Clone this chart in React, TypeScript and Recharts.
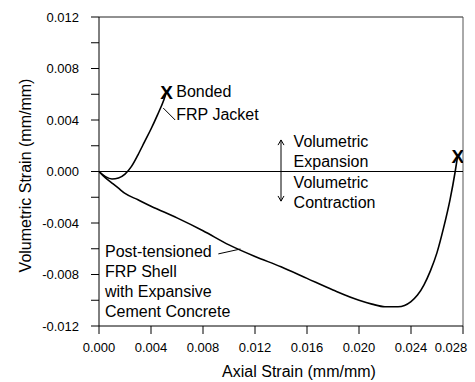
import { ComposedChart, Line, Scatter, XAxis, YAxis, ReferenceLine, ReferenceDot } from 'recharts';

const xTicks = [0, 0.002, 0.004, 0.006, 0.008, 0.01, 0.012, 0.014, 0.016, 0.018, 0.02, 0.022, 0.024, 0.026, 0.028];
const yTicks = [-0.012, -0.01, -0.008, -0.006, -0.004, -0.002, 0, 0.002, 0.004, 0.006, 0.008, 0.01, 0.012];

// bonded FRP jacket
const bondedAxial = [0, 0.0005, 0.001, 0.0015, 0.002, 0.0025, 0.003, 0.0035, 0.004, 0.0045, 0.005, 0.0052];
const bondedVol = [0, -0.0004, -0.00058, -0.0005, -0.0002, 0.0004, 0.0013, 0.0023, 0.0033, 0.0044, 0.0056, 0.0062];

// post-tensioned FRP shell
const shellAxial = [0, 0.0005, 0.001, 0.0015, 0.002, 0.003, 0.004, 0.006, 0.008, 0.01, 0.012, 0.014, 0.016, 0.018, 0.02, 0.021, 0.022, 0.023, 0.0235, 0.024, 0.0245, 0.025, 0.0255, 0.026, 0.0265, 0.027, 0.0274, 0.0276];
const shellVol = [0, -0.0005, -0.0009, -0.0013, -0.0017, -0.0022, -0.0027, -0.0036, -0.0046, -0.0057, -0.0066, -0.0074, -0.0083, -0.0092, -0.01, -0.0103, -0.0105, -0.0105, -0.0104, -0.0101, -0.0096, -0.0088, -0.0077, -0.0063, -0.0044, -0.0022, 0, 0.0013];

// failure marks (X)
const failAxial = [0.0052, 0.0276];
const failVol = [0.0062, 0.0012];

const bonded = bondedAxial.map((x, i) => ({ x, y: bondedVol[i] }));
const shell = shellAxial.map((x, i) => ({ x, y: shellVol[i] }));
const fails = failAxial.map((x, i) => ({ x, y: failVol[i] }));

const FONT = 'Liberation Sans, Arial, sans-serif';

function fmt(v: number): string {
  const m = Math.round(v * 1000);
  return m % 4 === 0 ? v.toFixed(3) : '';
}

// last label sits a bit left so it stays inside the frame
const XTick = (p: any) => {
  const v = p.payload.value;
  return (
    <text x={p.x} y={p.y} dy="0.71em" dx={v >= 0.028 ? -6 : 0} textAnchor="middle" fontSize={13} fontFamily={FONT} fill="#000">
      {fmt(v)}
    </text>
  );
};

function note(x: number, y: number, text: string) {
  return (
    <ReferenceDot
      key={text + y}
      x={x}
      y={y}
      r={0}
      shape={(p: any) => (
        <text x={p.cx} y={p.cy} dy="0.35em" fontSize={16} fontFamily={FONT} fill="#000">
          {text}
        </text>
      )}
    />
  );
}

function seg(x1: number, y1: number, x2: number, y2: number, k: string) {
  return (
    <ReferenceLine
      key={k}
      segment={[{ x: x1, y: y1 }, { x: x2, y: y2 }]}
      stroke="#000"
      strokeWidth={1}
    />
  );
}

const XMark = (p: any) => (
  <text x={p.cx} y={p.cy} dy="0.36em" textAnchor="middle" fontSize={19} fontWeight="bold" fontFamily={FONT} fill="#000">
    X
  </text>
);

export default function App() {
  const tick = { fontSize: 13, fill: '#000', fontFamily: FONT };
  return (
    <div style={{ position: 'absolute', left: 0, top: 0, background: '#fff' }}>
      <ComposedChart width={475} height={382} margin={{ top: 17, right: 12, left: 0, bottom: 0 }}>
        <XAxis
          type="number"
          dataKey="x"
          domain={[0, 0.028]}
          ticks={xTicks}
          tick={<XTick />}
          tickSize={8}
          tickMargin={9}
          height={56}
          stroke="#000"
          allowDataOverflow
          label={{ value: 'Axial Strain (mm/mm)', position: 'insideBottom', offset: 5, dx: 18, style: { fontSize: 16, fill: '#000', fontFamily: FONT } }}
        />
        <YAxis
          type="number"
          dataKey="y"
          domain={[-0.012, 0.012]}
          ticks={yTicks}
          tickFormatter={fmt}
          tick={tick}
          tickSize={8}
          tickMargin={12}
          width={99}
          stroke="#000"
          allowDataOverflow
          label={{ value: 'Volumetric Strain (mm/mm)', angle: -90, position: 'insideLeft', offset: 25, dy: 4, style: { fontSize: 16, fill: '#000', fontFamily: FONT, textAnchor: 'middle' } }}
        />
        <ReferenceLine y={0.012} stroke="#222" />
        <ReferenceLine x={0.028} stroke="#555" />
        <ReferenceLine y={0} stroke="#000" />
        <Line data={bonded} dataKey="y" type="monotone" stroke="#000" strokeWidth={1.6} dot={false} isAnimationActive={false} />
        <Line data={shell} dataKey="y" type="monotone" stroke="#000" strokeWidth={1.6} dot={false} isAnimationActive={false} />
        <Scatter data={fails} dataKey="y" shape={XMark} isAnimationActive={false} />
        {note(0.00594, 0.00625, 'Bonded')}
        {note(0.00594, 0.00447, 'FRP Jacket')}
        {seg(0.00494, 0.00493, 0.00586, 0.004, 'l1')}
        {note(0.01497, 0.00237, 'Volumetric')}
        {note(0.01497, 0.00082, 'Expansion')}
        {note(0.01497, -0.00082, 'Volumetric')}
        {note(0.01497, -0.00237, 'Contraction')}
        {seg(0.014, 0.00245, 0.014, -0.0023, 'a0')}
        {seg(0.014, 0.00245, 0.01377, 0.00205, 'a1')}
        {seg(0.014, 0.00245, 0.01423, 0.00205, 'a2')}
        {seg(0.014, -0.0023, 0.01377, -0.0019, 'a3')}
        {seg(0.014, -0.0023, 0.01423, -0.0019, 'a4')}
        {note(0.00046, -0.00617, 'Post-tensioned')}
        {note(0.00046, -0.00773, 'FRP Shell')}
        {note(0.00046, -0.00928, 'with Expansive')}
        {note(0.00046, -0.01083, 'Cement Concrete')}
        {seg(0.00918, -0.0064, 0.01088, -0.00602, 'l2')}
      </ComposedChart>
    </div>
  );
}
